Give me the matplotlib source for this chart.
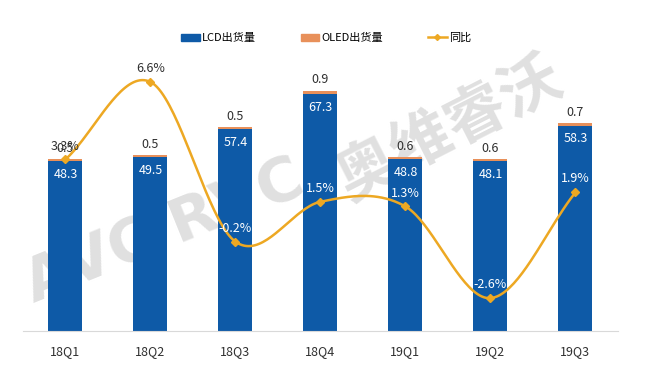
import numpy as np
import matplotlib
matplotlib.use("Agg")
import matplotlib.pyplot as plt
from matplotlib.lines import Line2D
from matplotlib.patches import Patch

plt.rcParams['font.family'] = ['Noto Sans CJK SC', 'DejaVu Sans']

categories = ["18Q1", "18Q2", "18Q3", "18Q4", "19Q1", "19Q2", "19Q3"]
lcd = [48.3, 49.5, 57.4, 67.3, 48.8, 48.1, 58.3]
oled = [0.5, 0.5, 0.5, 0.9, 0.6, 0.6, 0.7]
yoy = [3.3, 6.6, -0.2, 1.5, 1.3, -2.6, 1.9]

C_LCD = "#0E5AA7"
C_OLED = "#E8905A"
C_LINE = "#EDA823"
C_TXT = "#303030"

def catmull_rom(xs, ys, n=40):
    xs = np.asarray(xs, float); ys = np.asarray(ys, float)
    px = np.concatenate([[2*xs[0]-xs[1]], xs, [2*xs[-1]-xs[-2]]])
    py = np.concatenate([[2*ys[0]-ys[1]], ys, [2*ys[-1]-ys[-2]]])
    ox, oy = [], []
    for i in range(1, len(px)-2):
        t = np.linspace(0, 1, n, endpoint=False)
        m0x = (px[i+1]-px[i-1])/2; m1x = (px[i+2]-px[i])/2
        m0y = (py[i+1]-py[i-1])/2; m1y = (py[i+2]-py[i])/2
        h00 = 2*t**3-3*t**2+1; h10 = t**3-2*t**2+t
        h01 = -2*t**3+3*t**2; h11 = t**3-t**2
        ox.append(h00*px[i]+h10*m0x+h01*px[i+1]+h11*m1x)
        oy.append(h00*py[i]+h10*m0y+h01*py[i+1]+h11*m1y)
    ox.append([xs[-1]]); oy.append([ys[-1]])
    return np.concatenate(ox), np.concatenate(oy)

fig = plt.figure(figsize=(6.56, 3.69), dpi=100)
ax = fig.add_axes([0.035, 0.103, 0.907, 0.764])
x = np.arange(len(categories))

# watermark
fig.text(0.25, 0.37, "AVC RVC", fontsize=44, fontweight='bold', color="#e0e0e0",
         rotation=22, ha='center', va='center', family='DejaVu Sans', zorder=0)
fig.text(0.685, 0.65, "奥维睿沃", fontsize=44, fontweight='bold', color="#e0e0e0",
         rotation=27, ha='center', va='center', zorder=0)
ax.set_zorder(1)
ax.patch.set_visible(False)

w = 0.4
ax.bar(x, lcd, w, color=C_LCD, zorder=2)
ax.bar(x, oled, w, bottom=lcd, color=C_OLED, zorder=2)
for xi, l, o in zip(x, lcd, oled):
    ax.annotate(f"{l:.1f}", (xi, l), xytext=(0, -5), textcoords='offset points',
                ha='center', va='top', color='white', fontsize=9, zorder=5)
    ax.annotate(f"{o:.1f}", (xi, l+o), xytext=(0, 3), textcoords='offset points',
                ha='center', va='bottom', color=C_TXT, fontsize=9, zorder=5)

ax.set_xlim(-0.5, len(categories)-0.5)
ax.set_ylim(0, 80)
ax.set_xticks(x)
ax.set_xticklabels(categories, fontsize=9, color=C_TXT)
ax.tick_params(axis='x', length=0, pad=10)
ax.set_yticks([])
for s in ['top', 'left', 'right']:
    ax.spines[s].set_visible(False)
ax.spines['bottom'].set_color("#d9d9d9")

ax2 = ax.twinx()
ax2.set_ylim(-4, 8)
ax2.set_yticks([])
for s in ax2.spines.values():
    s.set_visible(False)
sx, sy = catmull_rom(x, yoy)
ax2.plot(sx, sy, color=C_LINE, lw=1.8, zorder=3)
ax2.plot(x, yoy, ls='none', marker='D', ms=4, color=C_LINE, zorder=4)
on_white = [True, True, False, False, False, False, False]
for xi, v, ow in zip(x, yoy, on_white):
    ax2.annotate(f"{v:.1f}%", (xi, v), xytext=(0, 5), textcoords='offset points',
                 ha='center', va='bottom', fontsize=9,
                 color=C_TXT if ow else 'white', zorder=5)

handles = [Patch(color=C_LCD), Patch(color=C_OLED),
           Line2D([], [], color=C_LINE, lw=1.8, marker='D', ms=3)]
fig.legend(handles, ["LCD出货量", "OLED出货量", "同比"], loc='center',
           bbox_to_anchor=(326/656, 1-38/369), ncol=3, frameon=False, fontsize=8,
           handlelength=1.7, handleheight=0.6, handletextpad=0.2, columnspacing=4.0)

fig.savefig("out.png", dpi=100, facecolor='white')
